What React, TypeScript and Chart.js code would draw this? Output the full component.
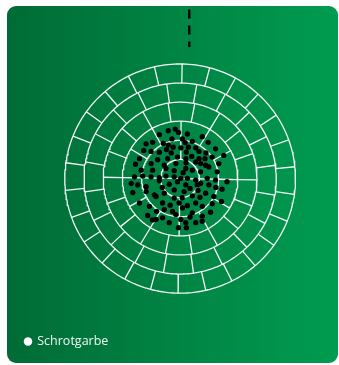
import React, { useEffect, useRef } from 'react';
import { Chart, registerables } from 'chart.js';

Chart.register(...registerables);

// Target rings (radius of each circle, in px-like units from the centre)
const ringRadii = [19.4, 38.8, 58.2, 77.5, 96.9, 116.3];
// Number of radial dividers in each ring, and angle (deg, clockwise from top) of the first divider
const ringSpokeCounts = [2, 4, 12, 18, 20, 26];
const ringSpokeStartDeg = [91, 1, 1, 11, 10, 1];

// Shot pattern (pellet hits), offsets from target centre
const shotX = [
  -12, -5, -1.7, 7.3, -21, -8.3, 2.3, 12.3, 22.3, 28.3, -34.3, -27.7, -17, -7, 0.7, 8.3, 15.7, 35.7,
  -36.7, -29.3, -21, -13.7, 6.3, 11.7, 19, 25, 32.3, 44, -41, -22.7, -12.7, -2.7, 5.7, 15.7, 25.7, 39,
  -45, -29.3, -16, -4.3, 5.7, 20.7, 29, -39.3, -27.7, -14.3, 12.3, 20.7, 37.3, -46, -37.7, -29.3, -21,
  -14.3, -6, 0.7, 7.3, 15.7, 27.3, 35.7, 47.3, -49.3, -42.7, -34.3, -21, -11, -2.7, 5.7, 17.3, 20.7, 29,
  42.3, -47.7, -34.3, -26, -16, -6, 4, 12.3, 25.7, 34, -41, -31, -24.3, -17.7, -6, -1, 7.3, 15.7, 22.3,
  32.3, 41.7, -32.7, -23.7, -16, -7.7, -4.3, 2.3, 12.3, 22.3, 30.7, -24.3, -17.7, -11, 0.7, 5.7, 15.7,
  22.3, -1.7, 6.3,
  5, 19, 26, 6, -6, 3, 36, -18, 10, 18, 2, 20, -10, -28, -12, -9, 10
];
const shotY = [
  48.5, 50.2, 46.8, 45.2, 44.5, 40.2, 40.2, 37.8, 42.5, 36.8, 35.2, 36.8, 35.8, 31.8, 31.2, 31.8, 31.2, 30.2,
  28.5, 27.5, 26.8, 29.5, 26.8, 22.5, 20.2, 20.2, 21.8, 23.5, 20.2, 19.2, 20.2, 21.8, 20.2, 16.8, 13.5, 15.2,
  14.5, 15.2, 13.5, 15.2, 10.2, 15.2, 11.8, 8.5, 8.5, 10.2, 8.5, 6.8, 6.8, 1.8, 2.5, 1.8, 0.8,
  2.5, 1.8, 0.2, 0.2, -1.5, 0.2, -1.5, -3.2, -4.8, -6.5, -8.2, -2.2, -5.8, -3.2, -6.5, -6.5, -4.8, -6.5,
  -10.8, -14.2, -13.2, -16.5, -14.8, -11.5, -13.2, -17.5, -14.8, -18.2, -24.8, -28.2, -18.2, -24.8, -19.8, -24.8, -27.5, -24.8, -28.2,
  -25.5, -23.2, -37.5, -33.2, -31.5, -33.2, -36.5, -29.8, -34.8, -38.2, -34.2, -41.5, -39.8, -44.8, -41.5, -44.8, -44.8,
  -43.2, -49.8, -49.8,
  36.5, 27.5, 26, 16, 8, 6, -9, -9, -10, -12, -19.5, -19, -27, -42, 34, 26, -39
];

// Aiming line (dashed)
const aimLineX = [9.2, 9.2];
const aimLineY = [171.5, 133.5];

const seriesLabel = 'Schrotgarbe';

function circlePoints(r: number) {
  const pts: { x: number; y: number }[] = [];
  for (let a = 0; a <= 360; a += 1.5) {
    const t = (a * Math.PI) / 180;
    pts.push({ x: r * Math.sin(t), y: r * Math.cos(t) });
  }
  return pts;
}

function spokePoints(ring: number) {
  const rIn = ring === 0 ? 0 : ringRadii[ring - 1];
  const rOut = ringRadii[ring];
  const n = ringSpokeCounts[ring];
  const pts: { x: number; y: number }[] = [];
  for (let k = 0; k < n; k++) {
    const t = ((ringSpokeStartDeg[ring] + (360 / n) * k) * Math.PI) / 180;
    pts.push({ x: rIn * Math.sin(t), y: rIn * Math.cos(t) });
    pts.push({ x: rOut * Math.sin(t), y: rOut * Math.cos(t) });
    pts.push({ x: NaN, y: NaN });
  }
  return pts;
}

const cardPlugin = {
  id: 'card',
  beforeDraw(chart: any) {
    const { ctx } = chart;
    ctx.save();
    const g = ctx.createLinearGradient(7, 0, 338, 0);
    g.addColorStop(0, '#006b36');
    g.addColorStop(1, '#009c50');
    ctx.fillStyle = g;
    ctx.beginPath();
    ctx.roundRect(7, 6, 331, 357, 9);
    ctx.fill();
    ctx.restore();
  },
};

export default function App() {
  const ref = useRef<HTMLCanvasElement>(null);

  useEffect(() => {
    if (!ref.current) return;
    const gridLine = { showLine: true, pointRadius: 0, pointHoverRadius: 0, borderColor: 'rgba(255,255,255,0.95)', borderWidth: 1.3, fill: false };
    const datasets: any[] = [];
    datasets.push({
      label: seriesLabel,
      data: shotX.map((x, i) => ({ x, y: shotY[i] })),
      pointRadius: 2.65,
      pointHoverRadius: 2.65,
      pointBackgroundColor: '#000',
      pointBorderWidth: 0,
      showLine: false,
    });
    datasets.push({
      label: 'aim',
      data: aimLineX.map((x, i) => ({ x, y: aimLineY[i] })),
      showLine: true,
      pointRadius: 0,
      borderColor: '#000',
      borderWidth: 2.4,
      borderDash: [9, 7],
      borderCapStyle: 'butt',
    });
    ringRadii.forEach((r, i) => {
      datasets.push({ label: 'ring' + i, data: circlePoints(r), ...gridLine });
      datasets.push({ label: 'spokes' + i, data: spokePoints(i), ...gridLine });
    });

    const chart = new Chart(ref.current, {
      type: 'scatter',
      data: { datasets },
      options: {
        responsive: false,
        animation: false,
        devicePixelRatio: 1,
        layout: { padding: { left: 13, top: 0, right: 0, bottom: 0 } },
        scales: {
          x: { type: 'linear', display: false, min: -168.5, max: 157.5 },
          y: { type: 'linear', display: false, min: -186.5, max: 178.5 },
        },
        plugins: {
          tooltip: { enabled: false },
          legend: {
            display: true,
            position: 'chartArea',
            align: 'end',
            labels: {
              usePointStyle: true,
              boxWidth: 6,
              boxHeight: 6,
              padding: 12,
              color: '#f2f7f3',
              font: { family: "'Open Sans', sans-serif", size: 12.5 },
              generateLabels: () => [
                {
                  text: seriesLabel,
                  fillStyle: '#ffffff',
                  strokeStyle: '#ffffff',
                  lineWidth: 0,
                  pointStyle: 'circle',
                  hidden: false,
                  datasetIndex: 0,
                  fontColor: '#f2f7f3',
                } as any,
              ],
            },
          },
        },
      } as any,
      plugins: [cardPlugin],
    });
    return () => chart.destroy();
  }, []);

  return (
    <div style={{ position: 'absolute', left: 0, top: 0, width: 339, height: 365 }}>
      <canvas ref={ref} width={339} height={365} style={{ width: 339, height: 365, display: 'block' }} />
    </div>
  );
}
